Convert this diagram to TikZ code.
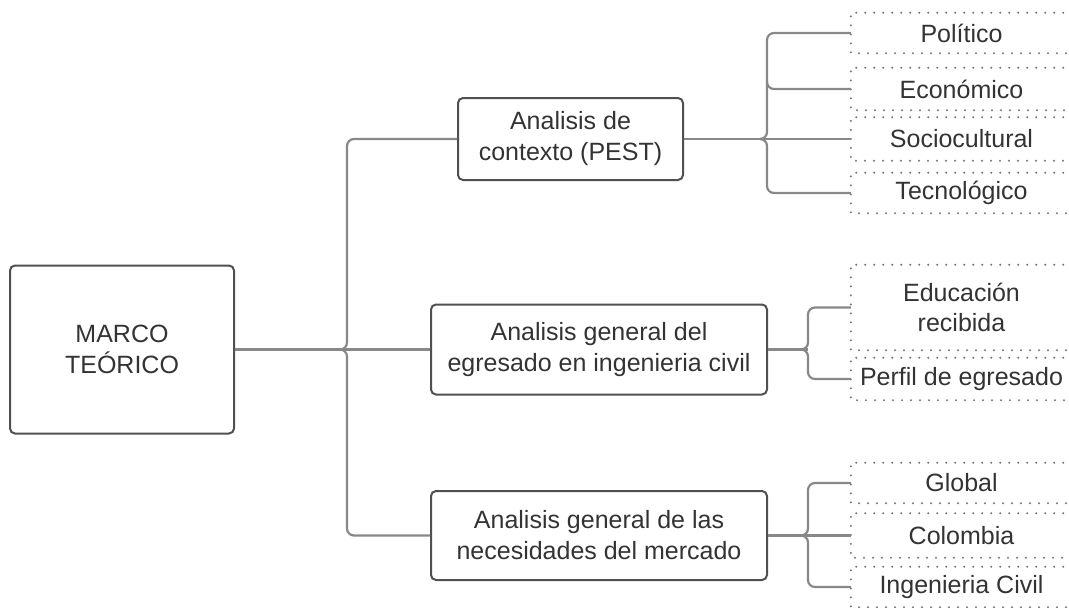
\documentclass[tikz,border=0pt]{standalone}
\usepackage{fontspec}
\setmainfont{Liberation Sans}
\definecolor{boxline}{HTML}{505050}
\definecolor{connline}{HTML}{888888}
\definecolor{dotline}{HTML}{777777}
\definecolor{txt}{HTML}{333333}
\tikzset{
  mbox/.style={draw=boxline, line width=2pt, rounded corners=5pt, align=center,
    inner sep=0pt, text=txt, font=\fontsize{25}{31}\selectfont},
  leaf/.style={minimum width=221pt, inner sep=0pt, align=center, text=txt,
    font=\fontsize{25}{30}\selectfont},
  conn/.style={draw=connline, line width=2.2pt, rounded corners=7pt},
  dots/.style={draw=dotline, line width=2.2pt, dash pattern=on 0pt off 9pt, line cap=round}
}
\begin{document}
\begin{tikzpicture}[x=1pt,y=-1pt]
\useasboundingbox (0,0) rectangle (1069,608);
% main boxes
\node[mbox, minimum width=224pt, minimum height=168pt] (m) at (122,349.5) {MARCO\\TEÓRICO};
\node[mbox, minimum width=225pt, minimum height=82pt] (A) at (570.5,139) {Analisis de\\contexto (PEST)};
\node[mbox, minimum width=336pt, minimum height=90pt] (B) at (599,349.5) {Analisis general del\\egresado en ingenieria civil};
\node[mbox, minimum width=336pt, minimum height=89pt] (C) at (599,535.5) {Analisis general de las\\necesidades del mercado};
% leaves
\node[leaf, minimum height=40pt] (P1) at (961.5,33) {Político};
\node[leaf, minimum height=42pt] (P2) at (961.5,89) {Económico};
\node[leaf, minimum height=43pt] (P3) at (961.5,139) {Sociocultural};
\node[leaf, minimum height=40pt] (P4) at (961.5,193) {Tecnológico};
\node[leaf, minimum height=85pt] (E1) at (961.5,307.5) {Educación\\recibida};
\node[leaf, minimum height=42pt] (E2) at (961.5,379) {Perfil de egresado};
\node[leaf, minimum height=40pt] (G1) at (961.5,483) {Global};
\node[leaf, minimum height=44pt] (G2) at (961.5,535.5) {Colombia};
\node[leaf, minimum height=40pt] (G3) at (961.5,587) {Ingenieria Civil};
\foreach \n in {P1,P2,P3,P4,E1,E2,G1,G2,G3}
  \draw[dots] (\n.north east) -- (\n.north west) -- (\n.south west) -- (\n.south east);
% brace cusps
\coordinate (k0) at (347,349.5);
\coordinate (k1) at (767,139);
\coordinate (k2) at (808,349.5);
\coordinate (k3) at (808,535.5);
% main brace
\draw[conn] (m.east) -- (B.west);
\draw[conn] (A.west) -- (A.west -| k0) -- (k0) -- ([xshift=-5pt]k0);
\draw[conn] ([xshift=-5pt]k0) -- (k0) -- (C.west -| k0) -- (C.west);
% PEST brace
\draw[conn] (A.east) -- (P3.west);
\draw[conn] (P1.west) -- (P1.west -| k1) -- (k1) -- ([xshift=-5pt]k1);
\draw[conn] ([xshift=-5pt]k1) -- (k1) -- (P4.west -| k1) -- (P4.west);
\draw[conn] ([yshift=8pt]P2.west -| k1) -- (P2.west -| k1) -- (P2.west);
% egresado brace
\draw[conn] (B.east) -- (k2);
\draw[conn] (E1.west) -- (E1.west -| k2) -- (k2) -- ([xshift=-5pt]k2);
\draw[conn] ([xshift=-5pt]k2) -- (k2) -- (E2.west -| k2) -- (E2.west);
% mercado brace
\draw[conn] (C.east) -- (G2.west);
\draw[conn] (G1.west) -- (G1.west -| k3) -- (k3) -- ([xshift=-5pt]k3);
\draw[conn] ([xshift=-5pt]k3) -- (k3) -- (G3.west -| k3) -- (G3.west);
\end{tikzpicture}
\end{document}
